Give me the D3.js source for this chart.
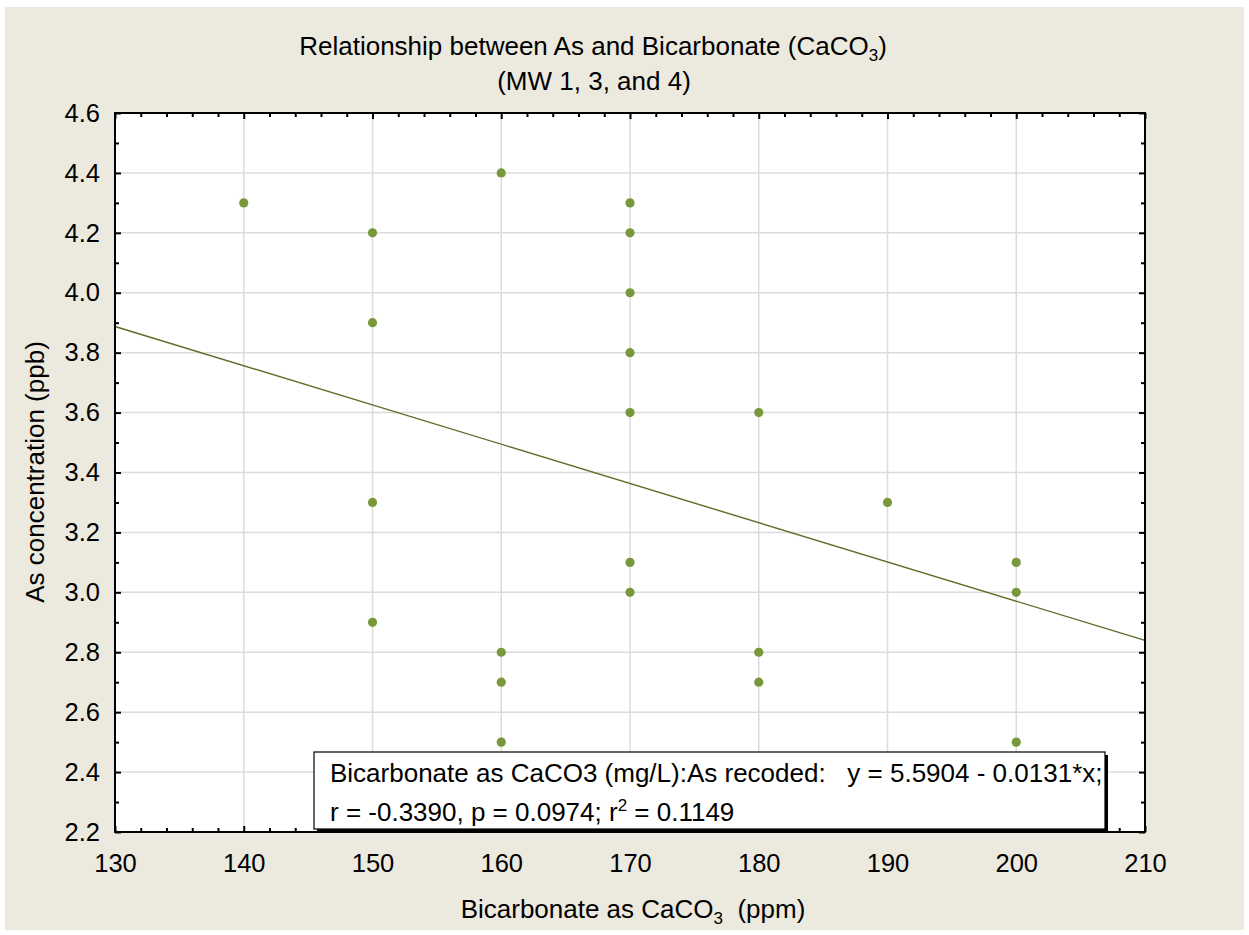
<!DOCTYPE html>
<html>
<head>
<meta charset="utf-8">
<script src="https://cdn.jsdelivr.net/npm/d3@7"></script>
<style>
  html, body { margin: 0; padding: 0; background: #ffffff; }
  svg { display: block; font-family: "Liberation Sans", Arial, sans-serif; }
  text { white-space: pre; }
</style>
</head>
<body>
<svg id="chart" width="1249" height="935"></svg>
<script>
// Bicarbonate (ppm) and arsenic (ppb) measurements, MW 1, 3 and 4
const bicarbonate = [140, 150, 150, 150, 150, 160, 160, 160, 160,
                     170, 170, 170, 170, 170, 170, 170,
                     180, 180, 180, 190, 200, 200, 200];
const arsenic     = [4.3, 4.2, 3.9, 3.3, 2.9, 4.4, 2.8, 2.7, 2.5,
                     4.3, 4.2, 4.0, 3.8, 3.6, 3.1, 3.0,
                     3.6, 2.8, 2.7, 3.3, 3.1, 3.0, 2.5];

// Least-squares fit reported in the legend box
const fitIntercept = 5.5904;
const fitSlope = -0.0131;
const fitR = -0.3390, fitP = 0.0974, fitR2 = 0.1149;

const xTicks = [130, 140, 150, 160, 170, 180, 190, 200, 210];
const yTicks = [2.2, 2.4, 2.6, 2.8, 3.0, 3.2, 3.4, 3.6, 3.8, 4.0, 4.2, 4.4, 4.6];
const xMinor = d3.range(130, 210.01, 2).filter(v => v % 10 !== 0);
const yMinor = d3.range(2.3, 4.6, 0.2).map(v => +v.toFixed(1));

const svg = d3.select("#chart");
const W = 1249, H = 935;
const plot = { left: 115, right: 1145, top: 113, bottom: 832 };
const FONT = "'Liberation Sans', Arial, sans-serif";

const x = d3.scaleLinear().domain([130, 210]).range([plot.left, plot.right]);
const y = d3.scaleLinear().domain([2.2, 4.6]).range([plot.bottom, plot.top]);

// page background
svg.append("rect").attr("x", 5).attr("y", 7).attr("width", W - 10).attr("height", H - 12)
  .attr("fill", "#ece9df");

// plot area
svg.append("rect").attr("x", plot.left).attr("y", plot.top)
  .attr("width", plot.right - plot.left).attr("height", plot.bottom - plot.top)
  .attr("fill", "#ffffff");

// grid
const grid = svg.append("g").attr("stroke", "#dcdcdc").attr("stroke-width", 1.5);
grid.selectAll("line.gx").data(xTicks.slice(1, -1)).join("line")
  .attr("x1", d => x(d)).attr("x2", d => x(d))
  .attr("y1", plot.top).attr("y2", plot.bottom);
grid.selectAll("line.gy").data(yTicks.slice(1, -1)).join("line")
  .attr("y1", d => y(d)).attr("y2", d => y(d))
  .attr("x1", plot.left).attr("x2", plot.right);

// regression line
svg.append("line")
  .attr("x1", x(130)).attr("y1", y(fitIntercept + fitSlope * 130))
  .attr("x2", x(210)).attr("y2", y(fitIntercept + fitSlope * 210))
  .attr("stroke", "#5b6e28").attr("stroke-width", 1.4);

// points
svg.append("g").selectAll("circle").data(bicarbonate).join("circle")
  .attr("cx", (d, i) => x(d)).attr("cy", (d, i) => y(arsenic[i]))
  .attr("r", 4.6).attr("fill", "#79983b");

// tick marks on all four sides (inward)
function ticks(axisFn, scale, values, size, transform) {
  const g = svg.append("g").attr("transform", transform)
    .call(axisFn(scale).tickValues(values).tickSize(-size).tickFormat(""));
  g.select(".domain").remove();
  g.selectAll(".tick line").attr("stroke", "#000").attr("stroke-width", 2);
  return g;
}
ticks(d3.axisBottom, x, xTicks, 6, `translate(0,${plot.bottom})`);
ticks(d3.axisBottom, x, xMinor, 4, `translate(0,${plot.bottom})`);
ticks(d3.axisTop, x, xTicks, 6, `translate(0,${plot.top})`);
ticks(d3.axisTop, x, xMinor, 4, `translate(0,${plot.top})`);
ticks(d3.axisLeft, y, yTicks, 6, `translate(${plot.left},0)`);
ticks(d3.axisLeft, y, yMinor, 4, `translate(${plot.left},0)`);
ticks(d3.axisRight, y, yTicks, 6, `translate(${plot.right},0)`);
ticks(d3.axisRight, y, yMinor, 4, `translate(${plot.right},0)`);

// tick labels
const xLab = svg.append("g").attr("transform", `translate(0,${plot.bottom})`)
  .call(d3.axisBottom(x).tickValues(xTicks).tickSize(0).tickPadding(22).tickFormat(d3.format("d")));
xLab.select(".domain").remove();
xLab.selectAll("text").attr("font-size", 25.5).attr("fill", "#000").attr("font-family", FONT);

const yLab = svg.append("g").attr("transform", `translate(${plot.left},0)`)
  .call(d3.axisLeft(y).tickValues(yTicks).tickSize(0).tickPadding(15).tickFormat(d3.format(".1f")));
yLab.select(".domain").remove();
yLab.selectAll("text").attr("font-size", 25.5).attr("fill", "#000").attr("font-family", FONT);

// legend box with shadow
const box = { x: 314, y: 752, w: 791, h: 77 };
svg.append("rect").attr("x", box.x + 3).attr("y", box.y + 3)
  .attr("width", box.w).attr("height", box.h).attr("fill", "#000");
svg.append("rect").attr("x", box.x).attr("y", box.y)
  .attr("width", box.w).attr("height", box.h)
  .attr("fill", "#fff").attr("stroke", "#000").attr("stroke-width", 1.2);

const leg = svg.append("g").attr("font-size", 26).attr("fill", "#000");
leg.append("text").attr("x", 330).attr("y", 782)
  .text(`Bicarbonate as CaCO3 (mg/L):As recoded:   y = ${fitIntercept.toFixed(4)} - ${Math.abs(fitSlope).toFixed(4)}*x;`);
const l2 = leg.append("text").attr("x", 330).attr("y", 821);
l2.append("tspan").text(`r = ${fitR.toFixed(4)}, p = ${fitP.toFixed(4)}; r`);
l2.append("tspan").attr("font-size", 17).attr("dy", -10).text("2");
l2.append("tspan").attr("dy", 10).text(` = ${fitR2.toFixed(4)}`);

// plot frame
svg.append("rect").attr("x", plot.left).attr("y", plot.top)
  .attr("width", plot.right - plot.left).attr("height", plot.bottom - plot.top)
  .attr("fill", "none").attr("stroke", "#000").attr("stroke-width", 2);

// titles
const t1 = svg.append("text").attr("x", 593).attr("y", 55).attr("text-anchor", "middle")
  .attr("font-size", 26).attr("fill", "#000");
t1.append("tspan").text("Relationship between As and Bicarbonate (CaCO");
t1.append("tspan").attr("font-size", 17).attr("dy", 6).text("3");
t1.append("tspan").attr("dy", -6).text(")");
svg.append("text").attr("x", 594).attr("y", 90).attr("text-anchor", "middle")
  .attr("font-size", 26).attr("fill", "#000").text("(MW 1, 3, and 4)");

const xt = svg.append("text").attr("x", 633).attr("y", 918).attr("text-anchor", "middle")
  .attr("font-size", 26).attr("fill", "#000");
xt.append("tspan").text("Bicarbonate as CaCO");
xt.append("tspan").attr("font-size", 17).attr("dy", 6).text("3");
xt.append("tspan").attr("dy", -6).text("  (ppm)");

svg.append("text").attr("transform", `translate(44,472) rotate(-90)`)
  .attr("text-anchor", "middle").attr("font-size", 26).attr("fill", "#000")
  .text("As concentration (ppb)");
</script>
</body>
</html>
